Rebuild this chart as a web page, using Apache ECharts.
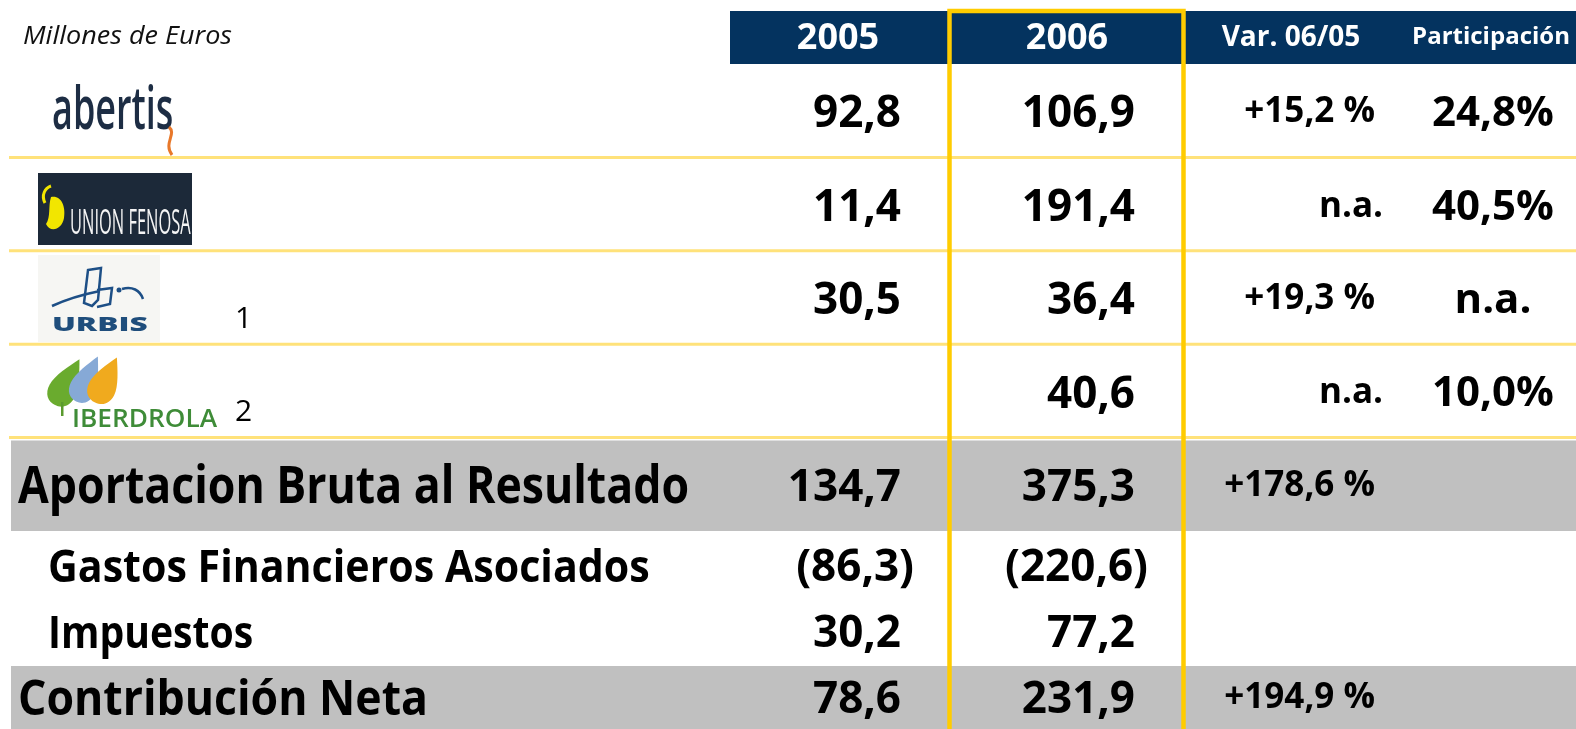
<!DOCTYPE html>
<html>
<head>
<meta charset="utf-8">
<title>Aportación de participadas</title>
<script src="https://cdn.jsdelivr.net/npm/echarts@6/dist/echarts.min.js"></script>
<style>
  html, body { margin: 0; padding: 0; background: #fff; }
  #chart { width: 1576px; height: 729px; }
</style>
</head>
<body>
<div id="chart"></div>
<script>
// data
var unitLabel = 'Millones de Euros';
var columns = ['2005', '2006', 'Var. 06/05', 'Participación'];
var rowsTop = ['abertis', 'Unión Fenosa', 'Urbis', 'Iberdrola', 'Aportacion Bruta al Resultado'];
var rowsBottom = ['Gastos Financieros Asociados', 'Impuestos', 'Contribución Neta'];
var totalRows = ['Aportacion Bruta al Resultado', 'Contribución Neta'];
var notes = ['', '', '1', '2', '', '', '', ''];
var val2005 = [92.8, 11.4, 30.5, null, 134.7, -86.3, 30.2, 78.6];
var val2006 = [106.9, 191.4, 36.4, 40.6, 375.3, -220.6, 77.2, 231.9];
var varPct = [15.2, 'n.a.', 19.3, 'n.a.', 178.6, null, null, 194.9];
var partPct = [24.8, 40.5, 'n.a.', 10.0, null, null, null, null];

// layout
var FONT = '"Open Sans", "DejaVu Sans", sans-serif';
var L = {
  headLeft: 730,
  headCenters: [838, 1067, 1291, 1491],
  headFonts: ['bold 36px ', 'bold 36px ', 'bold 28px ', 'bold 24px '],
  right2005: 901, right2006: 1135, rightVar: 1375, rightNa: 1383, centerPart: 1493,
  paren: 13, noteX: 235, lineLeft: 9, bandLeft: 11
};
// label x, font and horizontal squeeze for the text rows
var labelStyle = {
  4: { x: 18, dy: -3, font: 'bold 52px ', sx: 0.858 },
  5: { x: 48, dy: 0, font: 'bold 44px ', sx: 0.935 },
  6: { x: 48, dy: 0, font: 'bold 44px ', sx: 0.89 },
  7: { x: 18, dy: -1, font: 'bold 49px ', sx: 0.91 }
};

function dec(v) {
  return Math.abs(v).toFixed(1).replace('.', ',');
}
function num(v) {
  if (v == null) return '';
  return v < 0 ? '(' + dec(v) + ')' : dec(v);
}

// y is the wanted middle of the capitals; zrender's "middle" sits a bit higher
function txt(x, y, s, font, align, fill, extra) {
  var size = +(/(\d+)px/.exec(font) || [0, 20])[1];
  var el = {
    type: 'text', x: x, y: y + size * 0.13,
    style: { text: s, font: font + FONT, fill: fill || '#000', textAlign: align, textVerticalAlign: 'middle' }
  };
  if (extra) {
    for (var k in extra) el[k] = extra[k];
  }
  return el;
}
function stroke(d, color, w) {
  return { type: 'path', shape: { pathData: d }, style: { fill: null, stroke: color, lineWidth: w } };
}
function leaf(cx, cy, w, h, rot, color) {
  return { type: 'group', x: cx, y: cy, rotation: rot, children: [{
    type: 'path', shape: { pathData: LEAF, layout: 'cover', x: -w / 2, y: -h / 2, width: w, height: h },
    style: { fill: color }
  }] };
}

// company logos (drawn shapes, not data)
var LEAF = 'M50 0 C 72 22 100 50 100 70 C 100 90 78 100 50 100 C 22 100 0 90 0 70 C 0 50 28 22 50 0 Z';
function logos() {
  return [
    // abertis
    txt(52, 104, 'abertis', '600 60px ', 'left', '#1d2d44', { scaleX: 0.6 }),
    stroke('M169 127 C 177 134 163 143 172 155', '#e8782a', 3),
    // Union Fenosa
    { type: 'rect', shape: { x: 38, y: 173, width: 154, height: 72 }, style: { fill: '#1c2939' } },
    { type: 'path', shape: { pathData: 'M51 197 C 61 195 66 206 64 218 C 62 230 50 233 46 224 C 51 217 48 206 51 197 Z' },
      style: { fill: '#f2e600' } },
    stroke('M45 203 C 41 195 45 188 51 186', '#f2e600', 3),
    txt(70, 219, 'UNION FENOSA', '35px ', 'left', '#f4f4f4', { scaleX: 0.47 }),
    // Urbis
    { type: 'rect', shape: { x: 38, y: 255, width: 122, height: 87 }, style: { fill: '#f6f6f3' } },
    stroke('M52 306 C 65 300 80 295 100 291', '#1d4f86', 2.5),
    stroke('M88 270 L 101 268 L 98 300 L 92 306 L 84 303 Z M97 290 L 112 288 L 110 304 L 97 307', '#1d4f86', 2.5),
    { type: 'circle', shape: { cx: 119, cy: 290, r: 2.5 }, style: { fill: '#1d4f86' } },
    stroke('M122 289 C 132 286 140 290 143 299', '#1d4f86', 2.5),
    txt(52, 323, 'URBIS', '800 19px ', 'left', '#1f4e7c', { scaleX: 1.66 }),
    // Iberdrola
    leaf(67, 382, 28, 52, -0.5, '#6aab2e'),
    leaf(87, 379, 26, 50, -0.45, '#86a9d6'),
    leaf(106, 380, 28, 50, -0.45, '#f0aa1e'),
    { type: 'rect', shape: { x: 61, y: 402, width: 2.5, height: 14 }, style: { fill: '#5a9a2e' } },
    txt(72, 417, 'IBERDROLA', '600 25px ', 'left', '#3f8c38', { scaleX: 1.05 })
  ];
}

function renderHeader(params, api) {
  var yc = api.coord([0, 0])[1];
  var h = api.size([0, 1])[1];
  var cs = params.coordSys;
  var kids = [{
    type: 'rect',
    shape: { x: L.headLeft, y: yc - h / 2, width: cs.x + cs.width - L.headLeft, height: h },
    style: { fill: '#04335f' }
  }];
  columns.forEach(function (c, i) {
    kids.push(txt(L.headCenters[i], yc - 3, c, L.headFonts[i], 'center', '#fff'));
  });
  kids.push(txt(23, yc - 3.5, unitLabel, 'italic 25px ', 'left', '#111', { scaleX: 1.08 }));
  return { type: 'group', children: kids.concat(logos()) };
}

function renderRow(params, api) {
  var local = api.value(1);
  var g = api.value(2);
  var yc = api.coord([0, local])[1];
  var h = api.size([0, 1])[1];
  var top = yc - h / 2;
  var cs = params.coordSys;
  var right = cs.x + cs.width;
  var name = g < 5 ? rowsTop[g] : rowsBottom[g - 5];
  var kids = [];

  if (totalRows.indexOf(name) >= 0) {
    kids.push({ type: 'rect', shape: { x: L.bandLeft, y: top + 3, width: right - L.bandLeft, height: h - 3 },
      style: { fill: '#c0c0c0' } });
  }
  if (g >= 1 && g <= 4) {
    kids.push({ type: 'rect', shape: { x: L.lineLeft, y: top - 1.5, width: right - L.lineLeft, height: 3 },
      style: { fill: '#ffe27a' } });
  }

  // row label (the company rows carry a logo instead)
  var ls = labelStyle[g];
  if (ls) kids.push(txt(ls.x, yc + ls.dy, name, ls.font, 'left', '#000', { scaleX: ls.sx }));
  if (notes[g]) kids.push(txt(L.noteX, yc + 18, notes[g], '30px ', 'left', '#000'));

  // values
  var a = val2005[g], b = val2006[g];
  if (a != null) kids.push(txt(L.right2005 + (a < 0 ? L.paren : 0), yc - 1.5, num(a), 'bold 44px ', 'right'));
  if (b != null) kids.push(txt(L.right2006 + (b < 0 ? L.paren : 0), yc - 1.5, num(b), 'bold 44px ', 'right'));

  var v = varPct[g];
  if (typeof v === 'string') kids.push(txt(L.rightNa, yc - 2, v, 'bold 35px ', 'right'));
  else if (v != null) kids.push(txt(L.rightVar, yc - 3, '+' + dec(v) + ' %', 'bold 35px ', 'right'));

  var p = partPct[g];
  if (typeof p === 'string') kids.push(txt(L.centerPart, yc - 2, p, 'bold 42px ', 'center'));
  else if (p != null) kids.push(txt(L.centerPart, yc - 2, dec(p) + '%', 'bold 42px ', 'center'));

  return { type: 'group', children: kids };
}

var chart = echarts.init(document.getElementById('chart'));
chart.setOption({
  animation: false,
  backgroundColor: '#fff',
  grid: [
    { left: 0, right: 0, top: 11, height: 53 },
    { left: 0, right: 0, top: 64, height: 467 },
    { left: 0, right: 0, top: 531, height: 198 }
  ],
  xAxis: [0, 1, 2].map(function (i) {
    return { type: 'value', gridIndex: i, min: 0, max: 1576, show: false };
  }),
  yAxis: [
    { type: 'category', gridIndex: 0, data: ['header'], inverse: true, show: false },
    { type: 'category', gridIndex: 1, data: rowsTop, inverse: true, show: false },
    { type: 'category', gridIndex: 2, data: rowsBottom, inverse: true, show: false }
  ],
  // yellow frame around the 2006 column
  graphic: [{
    type: 'rect', z: 100, shape: { x: 949.5, y: 11, width: 234, height: 740 },
    style: { fill: null, stroke: '#ffcc00', lineWidth: 4.5 }
  }],
  series: [
    { type: 'custom', xAxisIndex: 0, yAxisIndex: 0, silent: true,
      renderItem: renderHeader, data: [[0, 0]], encode: { x: 0, y: 1 } },
    { type: 'custom', xAxisIndex: 1, yAxisIndex: 1, silent: true,
      renderItem: renderRow, data: rowsTop.map(function (r, i) { return [0, i, i]; }), encode: { x: 0, y: 1 } },
    { type: 'custom', xAxisIndex: 2, yAxisIndex: 2, silent: true,
      renderItem: renderRow, data: rowsBottom.map(function (r, i) { return [0, i, i + 5]; }), encode: { x: 0, y: 1 } }
  ]
});
</script>
</body>
</html>
